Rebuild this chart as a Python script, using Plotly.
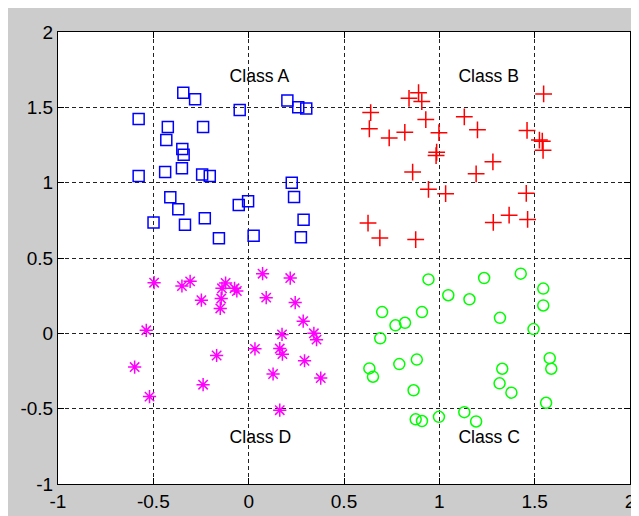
import plotly.graph_objects as go

# Class A (blue squares)
a_x = [-0.343, -0.281, -0.047, 0.203, 0.260, 0.302, -0.577, -0.424, -0.239, -0.432,
       -0.348, -0.341, -0.350, -0.438, -0.577, -0.244, -0.204, 0.226, 0.238, -0.411,
       -0.369, -0.052, -0.003, -0.499, -0.334, -0.230, 0.288, -0.156, 0.026, 0.274]
a_y = [1.597, 1.554, 1.483, 1.545, 1.501, 1.492, 1.422, 1.369, 1.369, 1.283,
       1.224, 1.185, 1.096, 1.070, 1.044, 1.055, 1.044, 1.000, 0.905, 0.903,
       0.824, 0.852, 0.877, 0.736, 0.721, 0.763, 0.754, 0.631, 0.648, 0.637]

# Class B (red plus)
b_x = [0.891, 0.841, 0.908, 1.547, 0.640, 0.929, 1.131, 0.633, 0.819, 0.737,
       0.998, 1.200, 1.460, 1.525, 1.540, 1.544, 0.986, 0.983, 1.281, 0.860,
       1.193, 0.943, 1.033, 1.456, 1.366, 1.283, 1.463, 0.626, 0.688, 0.876]
b_y = [1.597, 1.560, 1.538, 1.589, 1.465, 1.419, 1.437, 1.358, 1.334, 1.297,
       1.332, 1.351, 1.347, 1.283, 1.275, 1.215, 1.202, 1.180, 1.138, 1.070,
       1.059, 0.956, 0.927, 0.929, 0.784, 0.736, 0.756, 0.732, 0.633, 0.622]

# Class C (green circles)
c_x = [0.943, 1.235, 1.427, 1.545, 1.047, 1.158, 1.545, 0.700, 0.909, 1.318,
       0.770, 0.820, 1.494, 0.690, 1.579, 1.587, 0.633, 0.652, 0.790, 0.882,
       1.330, 1.316, 1.378, 0.865, 1.560, 0.876, 0.909, 0.998, 1.131, 1.193]
c_y = [0.358, 0.367, 0.396, 0.297, 0.253, 0.226, 0.185, 0.141, 0.141, 0.103,
       0.053, 0.070, 0.028, -0.033, -0.165, -0.235, -0.233, -0.288, -0.204, -0.174,
       -0.235, -0.332, -0.394, -0.378, -0.461, -0.571, -0.582, -0.554, -0.523, -0.585]

# Class D (magenta asterisks)
d_x = [-0.496, -0.350, -0.307, -0.121, -0.140, -0.074, -0.062, -0.248, -0.144, -0.149,
       0.073, 0.218, 0.092, 0.244, 0.286, -0.537, 0.175, 0.342, 0.356, 0.033,
       0.163, 0.177, -0.168, 0.293, -0.598, 0.128, 0.378, -0.239, -0.520, 0.163]
d_y = [0.336, 0.314, 0.345, 0.334, 0.299, 0.299, 0.281, 0.220, 0.231, 0.165,
       0.396, 0.367, 0.237, 0.204, 0.081, 0.020, -0.007, 0.000, -0.042, -0.103,
       -0.101, -0.138, -0.147, -0.182, -0.224, -0.270, -0.297, -0.341, -0.420, -0.510]

label_text = ["Class A", "Class B", "Class C", "Class D"]
label_x = [-0.1, 1.1, 1.1, -0.1]
label_y = [1.7, 1.7, -0.7, -0.7]

tick_vals = [-1, -0.5, 0, 0.5, 1, 1.5, 2]
tick_text = ["-1", "-0.5", "0", "0.5", "1", "1.5", "2"]

fig = go.Figure()
fig.add_trace(go.Scatter(x=a_x, y=a_y, mode="markers",
                         marker=dict(symbol="square-open", size=11, color="#0000ff",
                                     line=dict(width=1.5, color="#0000ff"))))
fig.add_trace(go.Scatter(x=b_x, y=b_y, mode="markers",
                         marker=dict(symbol="cross-thin-open", size=12, color="#ff0000",
                                     line=dict(width=1.5, color="#ff0000"))))
fig.add_trace(go.Scatter(x=c_x, y=c_y, mode="markers",
                         marker=dict(symbol="circle-open", size=11, color="#00ff00",
                                     line=dict(width=1.5, color="#00ff00"))))
fig.add_trace(go.Scatter(x=d_x, y=d_y, mode="markers",
                         marker=dict(symbol="asterisk-open", size=11, color="#ff00ff",
                                     line=dict(width=1.5, color="#ff00ff"))))
fig.add_trace(go.Scatter(x=label_x, y=label_y, mode="text", text=label_text,
                         textposition="middle right",
                         textfont=dict(family="Liberation Sans, Arial", size=17.6, color="#000000")))

axis_common = dict(
    tickvals=tick_vals, ticktext=tick_text, showgrid=True,
    gridcolor="#222222", griddash="4px,3px", gridwidth=1,
    showline=True, linecolor="#000000", linewidth=1, mirror="ticks",
    ticks="inside", ticklen=6, tickcolor="#000000",
    zeroline=False, tickfont=dict(family="Liberation Sans, Arial", size=19, color="#000000"),
)
fig.update_xaxes(range=[-1, 2], **axis_common)
fig.update_yaxes(range=[-1, 2], **axis_common)

fig.update_layout(
    width=639, height=516, showlegend=False,
    margin=dict(l=45, r=17, t=24, b=37),
    paper_bgcolor="#cccccc", plot_bgcolor="#ffffff",
)
fig.write_html("out.html")
